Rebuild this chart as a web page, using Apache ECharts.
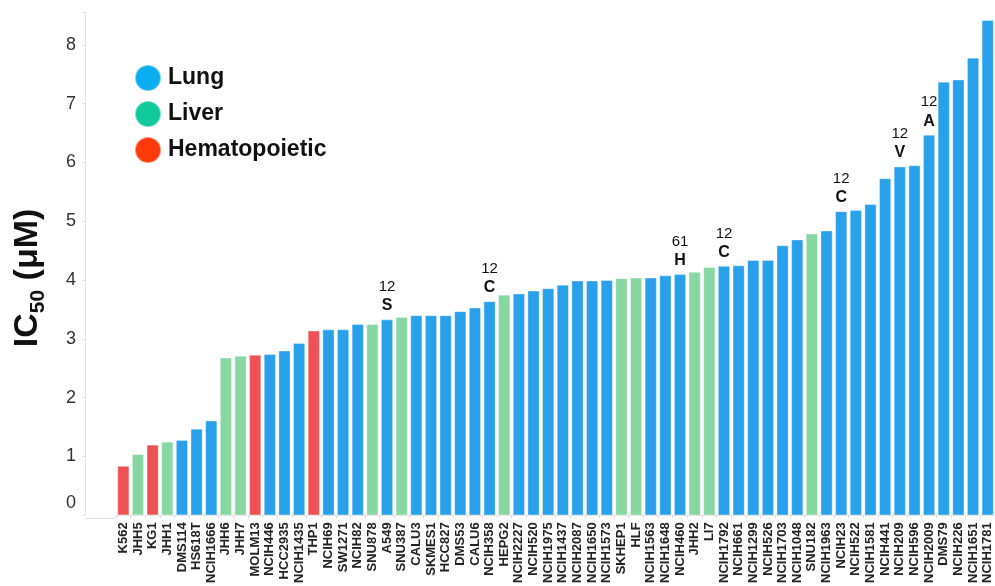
<!DOCTYPE html>
<html>
<head>
<meta charset="utf-8">
<script src="https://cdn.jsdelivr.net/npm/echarts@6/dist/echarts.min.js"></script>
<style>
  html, body { margin: 0; padding: 0; background: #ffffff; }
  #chart { width: 995px; height: 586px; }
</style>
</head>
<body>
<div id="chart"></div>
<script>
// Cell lines, sorted by IC50
const cellLines = [
  'K562', 'JHH5', 'KG1', 'JHH1', 'DMS114', 'HS618T', 'NCIH1666', 'JHH6', 'JHH7', 'MOLM13',
  'NCIH446', 'HCC2935', 'NCIH1435', 'THP1', 'NCIH69', 'SW1271', 'NCIH82', 'SNU878', 'A549', 'SNU387',
  'CALU3', 'SKMES1', 'HCC827', 'DMS53', 'CALU6', 'NCIH358', 'HEPG2', 'NCIH2227', 'NCIH520', 'NCIH1975',
  'NCIH1437', 'NCIH2087', 'NCIH1650', 'NCIH1573', 'SKHEP1', 'HLF', 'NCIH1563', 'NCIH1648', 'NCIH460', 'JHH2',
  'LI7', 'NCIH1792', 'NCIH661', 'NCIH1299', 'NCIH526', 'NCIH1703', 'NCIH1048', 'SNU182', 'NCIH1963', 'NCIH23',
  'NCIH522', 'NCIH1581', 'NCIH441', 'NCIH209', 'NCIH596', 'NCIH2009', 'DMS79', 'NCIH226', 'NCIH1651', 'NCIH1781'
];

// IC50 in µM
const ic50 = [
  0.84, 1.04, 1.20, 1.25, 1.28, 1.47, 1.61, 2.68, 2.71, 2.73,
  2.74, 2.80, 2.93, 3.14, 3.16, 3.16, 3.25, 3.25, 3.33, 3.37,
  3.40, 3.40, 3.40, 3.47, 3.53, 3.64, 3.75, 3.77, 3.82, 3.86,
  3.92, 3.99, 3.99, 4.00, 4.03, 4.04, 4.04, 4.08, 4.10, 4.14,
  4.22, 4.24, 4.25, 4.34, 4.34, 4.59, 4.69, 4.79, 4.84, 5.17,
  5.19, 5.29, 5.73, 5.93, 5.95, 6.47, 7.37, 7.41, 7.78, 8.42
];

// Tissue of origin for each cell line
const tissue = [
  'Hematopoietic', 'Liver', 'Hematopoietic', 'Liver', 'Lung', 'Lung', 'Lung', 'Liver', 'Liver', 'Hematopoietic',
  'Lung', 'Lung', 'Lung', 'Hematopoietic', 'Lung', 'Lung', 'Lung', 'Liver', 'Lung', 'Liver',
  'Lung', 'Lung', 'Lung', 'Lung', 'Lung', 'Lung', 'Liver', 'Lung', 'Lung', 'Lung',
  'Lung', 'Lung', 'Lung', 'Lung', 'Liver', 'Liver', 'Lung', 'Lung', 'Lung', 'Liver',
  'Liver', 'Lung', 'Lung', 'Lung', 'Lung', 'Lung', 'Lung', 'Liver', 'Lung', 'Lung',
  'Lung', 'Lung', 'Lung', 'Lung', 'Lung', 'Lung', 'Lung', 'Lung', 'Lung', 'Lung'
];

const tissueNames = ['Lung', 'Liver', 'Hematopoietic'];

// KRAS mutation marks: cell line, codon, substituted residue
const mutations = [
  ['A549', '12', 'S'],
  ['NCIH358', '12', 'C'],
  ['NCIH460', '61', 'H'],
  ['NCIH1792', '12', 'C'],
  ['NCIH23', '12', 'C'],
  ['NCIH209', '12', 'V'],
  ['NCIH2009', '12', 'A']
];

const FONT = '"Liberation Sans", Arial, Helvetica, sans-serif';
const barColors = { Lung: '#29a0ea', Liver: '#86d7a2', Hematopoietic: '#ef5254' };
const legendColors = { Lung: '#0aaef0', Liver: '#12c99b', Hematopoietic: '#ff3a0a' };

// Plot area layout
const GRID_LEFT = 116;
const GRID_BOTTOM = 68;
const Y_AXIS_OFFSET = 31;
const CHART_H = 586;

const mutationLabel = (codon, residue) => ({
  show: true,
  position: 'top',
  distance: 4,
  formatter: '{n|' + codon + '}\n{a|' + residue + '}',
  rich: {
    n: { fontFamily: FONT, fontSize: 15, color: '#111', lineHeight: 19, align: 'center' },
    a: { fontFamily: FONT, fontSize: 16, fontWeight: 'bold', color: '#111', lineHeight: 19, align: 'center' }
  }
});

const series = tissueNames.map(name => ({
  name: name,
  type: 'bar',
  barWidth: 12,
  barGap: '-100%',
  itemStyle: { color: barColors[name], borderColor: 'rgba(255,255,255,0.45)', borderWidth: 0.8 },
  emphasis: { disabled: true },
  data: cellLines.map((cell, i) => {
    if (tissue[i] !== name) return '-';
    const m = mutations.find(r => r[0] === cell);
    if (!m) return ic50[i];
    return { value: ic50[i], label: mutationLabel(m[1], m[2]) };
  })
}));

const chart = echarts.init(document.getElementById('chart'), null, { renderer: 'canvas' });

chart.setOption({
  animation: false,
  backgroundColor: '#ffffff',
  textStyle: { fontFamily: FONT },
  grid: { left: GRID_LEFT, right: -2, top: 12.5, bottom: GRID_BOTTOM },
  legend: {
    orient: 'vertical',
    left: 134,
    top: 64,
    padding: 0,
    icon: 'circle',
    itemWidth: 26,
    itemHeight: 26,
    itemGap: 8,
    selectedMode: false,
    textStyle: { fontFamily: FONT, fontSize: 23, fontWeight: 'bold', color: '#111', padding: [0, 0, 0, 2] },
    data: tissueNames.map(n => ({ name: n, itemStyle: { color: legendColors[n] } }))
  },
  xAxis: {
    type: 'category',
    data: cellLines,
    axisLine: { lineStyle: { color: '#e2e2e2', width: 1 } },
    axisTick: { show: true, length: 3, lineStyle: { color: '#dddddd' } },
    axisLabel: {
      rotate: 90,
      interval: 0,
      margin: 7,
      fontFamily: FONT,
      fontSize: 13,
      fontWeight: 'bold',
      color: '#222'
    }
  },
  yAxis: {
    type: 'value',
    min: 0,
    max: 8.55,
    interval: 1,
    offset: Y_AXIS_OFFSET,
    splitLine: { show: false },
    axisLine: { show: true, lineStyle: { color: '#e2e2e2', width: 1 } },
    axisTick: { show: true, length: 3, lineStyle: { color: '#e2e2e2' } },
    axisLabel: {
      margin: 9,
      fontFamily: FONT,
      fontSize: 18,
      color: '#333',
      formatter: v => (Number.isInteger(v) ? (v === 0 ? '{z|0}' : String(v)) : ''),
      rich: { z: { fontFamily: FONT, fontSize: 18, color: '#333', padding: [0, 0, 24, 0] } }
    },
    name: '{b|IC}{s|50}{b| (μM)}',
    nameLocation: 'middle',
    nameRotate: 90,
    nameGap: 40,
    nameTextStyle: {
      padding: [0, 28, 0, 0],
      rich: {
        b: { fontFamily: FONT, fontSize: 34, fontWeight: 'bold', color: '#111' },
        s: { fontFamily: FONT, fontSize: 21, fontWeight: 'bold', color: '#111', verticalAlign: 'bottom', padding: [0, 0, -4, 0] }
      }
    }
  },
  // extends the category axis line across the gap left of the first bar
  graphic: [{
    type: 'line',
    silent: true,
    shape: {
      x1: GRID_LEFT - Y_AXIS_OFFSET, y1: CHART_H - GRID_BOTTOM + 0.5,
      x2: GRID_LEFT, y2: CHART_H - GRID_BOTTOM + 0.5
    },
    style: { stroke: '#e2e2e2', lineWidth: 1 }
  }],
  series: series
});
</script>
</body>
</html>
